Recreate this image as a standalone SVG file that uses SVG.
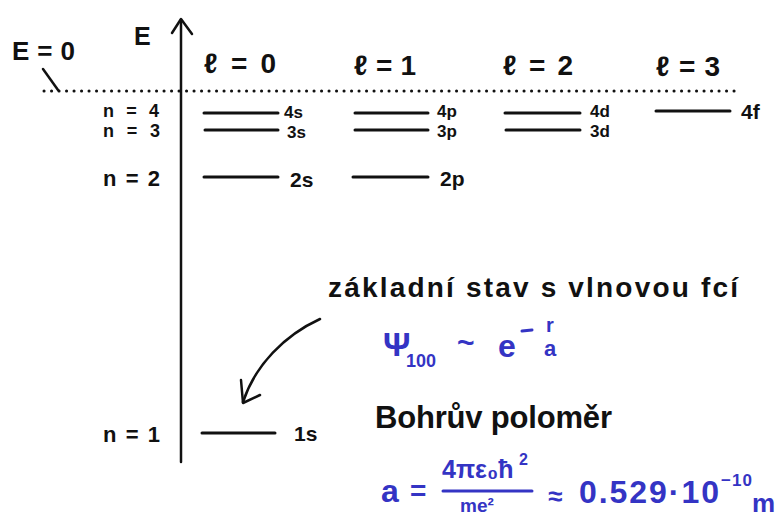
<svg xmlns="http://www.w3.org/2000/svg" width="779" height="518" viewBox="0 0 779 518">
<style>
.t{font-family:"Liberation Sans","DejaVu Sans",sans-serif;fill:#111;font-weight:bold}
.b{font-family:"Liberation Sans","DejaVu Sans",sans-serif;fill:#3434c4;font-weight:bold}
.lv{stroke:#111;stroke-width:3;stroke-linecap:round;fill:none}
.ax{stroke:#111;stroke-width:2.5;stroke-linecap:round;stroke-linejoin:round;fill:none}
</style>
<rect width="779" height="518" fill="#fff"/>
<g id="axis">
<path class="ax" d="M181,462 L181,20"/>
<path class="ax" d="M172,33 L181,19 L192,34"/>
<text class="t" x="134" y="45" font-size="25">E</text>
</g>
<g id="zero">
<text class="t" x="12" y="60" font-size="26" textLength="63">E = 0</text>
<path class="ax" d="M43,69 L58,90"/>
<path d="M44,91 L737,91" stroke="#111" stroke-width="3" stroke-dasharray="0.1 7.4" stroke-linecap="round"/>
</g>
<g id="l-labels">
<text class="t" x="204" y="73" font-size="28" textLength="72">ℓ = 0</text>
<text class="t" x="354" y="75" font-size="28" textLength="62">ℓ = 1</text>
<text class="t" x="503" y="75" font-size="28" textLength="70">ℓ = 2</text>
<text class="t" x="656" y="76" font-size="28" textLength="64">ℓ = 3</text>
</g>
<g id="n-labels">
<text class="t" x="103" y="117" font-size="18" textLength="56">n = 4</text>
<text class="t" x="103" y="137" font-size="18" textLength="57">n = 3</text>
<text class="t" x="103" y="186" font-size="22" textLength="57">n = 2</text>
<text class="t" x="103" y="442" font-size="22" textLength="57">n = 1</text>
</g>
<g id="s-levels">
<path class="lv" d="M204,113 L278,113 M205,130 L278,130 M204,177 L278,177 M202,433 L275,433"/>
<text class="t" x="284" y="118" font-size="17">4s</text>
<text class="t" x="287" y="138" font-size="17">3s</text>
<text class="t" x="290" y="187" font-size="21">2s</text>
<text class="t" x="294" y="441" font-size="21">1s</text>
</g>
<g id="p-levels">
<path class="lv" d="M355,113 L428,113 M355,130 L428,130 M353,177 L428,177"/>
<text class="t" x="437" y="117" font-size="17">4p</text>
<text class="t" x="437" y="137" font-size="17">3p</text>
<text class="t" x="440" y="186" font-size="21">2p</text>
</g>
<g id="d-levels">
<path class="lv" d="M505,113 L580,113 M506,130 L580,130"/>
<text class="t" x="590" y="117" font-size="17">4d</text>
<text class="t" x="590" y="137" font-size="17">3d</text>
</g>
<g id="f-levels">
<path class="lv" d="M656,111 L730,111"/>
<text class="t" x="741" y="119" font-size="21">4f</text>
</g>
<g id="connectors">
<path class="ax" d="M320,319 C285,335 255,365 243,402"/>
<path class="ax" d="M241,380 L243,403 L260,395"/>
</g>
<g id="ground-state">
<text class="t" x="328" y="297" font-size="28" textLength="410">základní stav s vlnovou fcí</text>
<text class="b" x="383" y="356" font-size="34">Ψ</text>
<text class="b" x="406" y="367" font-size="18">100</text>
<text class="b" x="457" y="353" font-size="30">~</text>
<text class="b" x="498" y="357" font-size="32">e</text>
<path d="M522,331 L532,330" stroke="#3434c4" stroke-width="3" stroke-linecap="round"/>
<text class="b" x="546" y="332" font-size="20">r</text>
<text class="b" x="544" y="356" font-size="22">a</text>
</g>
<g id="bohr">
<text class="t" x="375" y="428" font-size="31" textLength="237">Bohrův poloměr</text>
<text class="b" x="381" y="502" font-size="32">a</text>
<text class="b" x="410" y="500" font-size="28">=</text>
<text class="b" x="442" y="478" font-size="25">4πε₀ħ</text>
<text class="b" x="519" y="465" font-size="16">2</text>
<path d="M443,491 L532,491" stroke="#3434c4" stroke-width="3" stroke-linecap="round"/>
<text class="b" x="460" y="512" font-size="19">me²</text>
<text class="b" x="548" y="505" font-size="26">≈</text>
<text class="b" x="579" y="503" font-size="32" textLength="140">0.529·10</text>
<text class="b" x="721" y="486" font-size="17" textLength="31">−10</text>
<text class="b" x="752" y="512" font-size="26">m</text>
</g>
</svg>
